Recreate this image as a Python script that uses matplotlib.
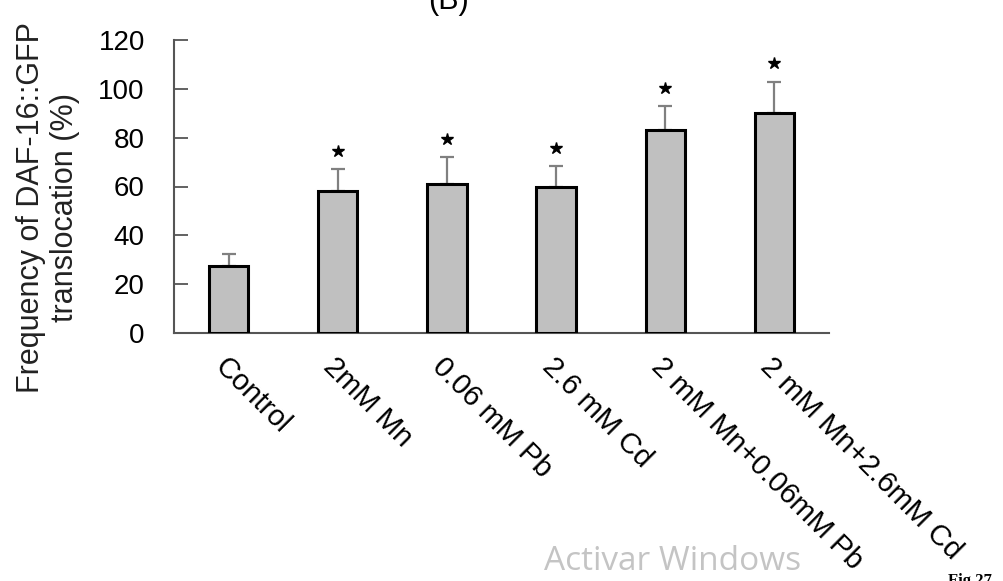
import matplotlib.pyplot as plt
import numpy as np

# data
groups = ['Control', '2mM Mn', '0.06 mM Pb', '2.6 mM Cd',
          '2 mM Mn+0.06mM Pb', '2 mM Mn+2.6mM Cd']
freq = [27.3, 58.0, 61.2, 60.0, 83.3, 90.2]
err = [4.9, 9.0, 10.8, 8.2, 9.7, 12.8]
signif = [False, True, True, True, True, True]

plt.rcParams['font.family'] = ['Liberation Sans', 'DejaVu Sans']

fig = plt.figure(figsize=(10.04, 5.81), dpi=100)
ax = fig.add_axes([174/1004, 1-333/581, (829-174)/1004, (333-40)/581])

x = np.arange(len(groups))
ax.bar(x, freq, width=0.36, color='#c0c0c0', edgecolor='black', linewidth=2.2, zorder=3)

# upper error bars only
ax.errorbar(x, freq, yerr=[np.zeros(len(err)), err], fmt='none',
            ecolor='#808080', elinewidth=1.6, capsize=5, capthick=1.6, zorder=2)

# significance stars
for xi, f, e, s in zip(x, freq, err, signif):
    if s:
        ax.plot(xi, f + e + 7.5, marker='*', color='black', markersize=9, zorder=4)

ax.set_xlim(-0.5, 5.5)
ax.set_ylim(0, 120)
ax.set_yticks(np.arange(0, 121, 20))
ax.set_xticks(x)
ax.set_xticklabels(groups, rotation=-45, ha='left', va='top',
                   rotation_mode='anchor', fontsize=21)
ax.tick_params(axis='x', length=0, pad=14)
ax.tick_params(axis='y', direction='in', length=10, width=1.3, labelsize=20,
               pad=21, color='#555555')

for side in ['top', 'right']:
    ax.spines[side].set_visible(False)
ax.spines['left'].set_color('#555555')
ax.spines['bottom'].set_color('#555555')
ax.spines['left'].set_linewidth(1.5)
ax.spines['bottom'].set_linewidth(1.5)

fig.text(48/1004, 1-208/581, 'Frequency of DAF-16::GFP\ntranslocation (%)',
         fontsize=22, rotation=90, ha='center', va='center', linespacing=1.15,
         color='#222222')

# clipped panel letter at the top
fig.text(449/1004, 1-16/581, '(B)', fontsize=22, ha='center', va='bottom')
# watermark and figure label
fig.text(673/1004, 1-561/581, 'Activar Windows', fontsize=24, color='#c4c4c4',
         family='Open Sans', ha='center', va='center')
fig.text(970/1004, 1-573/581, 'Fig 27', fontsize=12, family='Liberation Serif',
         fontweight='bold', ha='center', va='top')

fig.savefig('out.png', dpi=100)
